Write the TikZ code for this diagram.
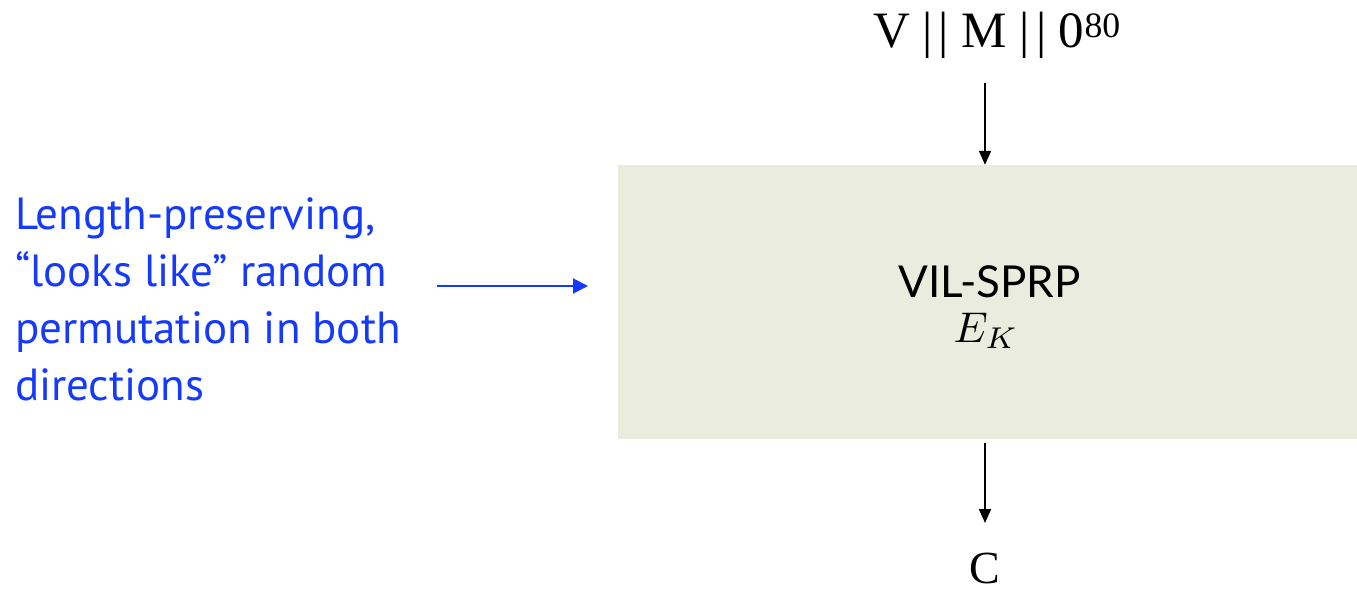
\documentclass[tikz,border=0pt]{standalone}
\usepackage{fontspec}
\usetikzlibrary{arrows.meta}
\newfontfamily\notefont{PT Sans}
\newfontfamily\boxfont{Lato}
\newfontfamily\timesfont{Liberation Serif}
\definecolor{noteblue}{RGB}{22,58,250}
\definecolor{boxfill}{RGB}{234,237,222}
\newcommand{\dbar}{|\kern6pt|}
\begin{document}
\begin{tikzpicture}[x=1pt,y=-1pt,
  txt/.style={inner sep=0pt, outer sep=0pt},
  flow/.style={line width=1.8pt, -{Triangle[length=14pt,width=12pt]}},
  noteflow/.style={line width=2pt, draw=noteblue, -{Triangle[length=15pt,width=15pt]}}
]
\useasboundingbox (0,0) rectangle (1357,590);

% cipher block
\node[fill=boxfill, minimum width=739pt, minimum height=274pt, inner sep=0pt] (box) at (987.5,302) {};
\node[txt, anchor=base, font=\boxfont\fontsize{44}{44}\selectfont] (name) at (989.5,297) {VIL-SPRP};
\node[txt, anchor=base] (ek) at (986,342) {\scalebox{4.3}{$E_K$}};

% input and output
\node[txt, anchor=base west, font=\timesfont\fontsize{51}{51}\selectfont] (in) at (873,47) {V \dbar{} M \dbar{} 0\textsuperscript{80}};
\node[txt, anchor=base, font=\timesfont\fontsize{46}{46}\selectfont] (out) at (985,583) {C};

\coordinate (inStart) at (985,83);
\coordinate (outEnd) at (985,523);
\path (outEnd |- box.south) ++(0,4) coordinate (outStart);
\draw[flow] (inStart) -- (inStart |- box.north);
\draw[flow] (outStart) -- (outEnd);

% annotation
\node[txt, anchor=north west, align=left, text=noteblue, font=\notefont\fontsize{45}{57}\selectfont] (note) at (15,198)
  {Length-preserving,\\“looks like” random\\permutation in both\\directions};
\coordinate (noteStart) at (437,286);
\coordinate (noteEnd) at (588,286);
\draw[noteflow] (noteStart) -- (noteEnd);
\end{tikzpicture}
\end{document}
